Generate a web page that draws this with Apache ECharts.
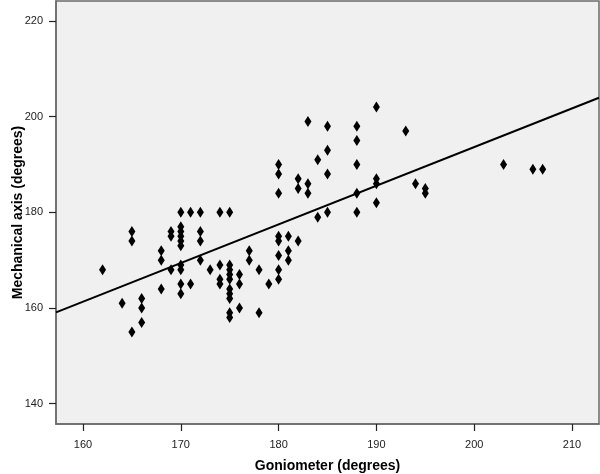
<!DOCTYPE html>
<html>
<head>
<meta charset="utf-8">
<script src="https://cdn.jsdelivr.net/npm/echarts@6/dist/echarts.min.js"></script>
<style>
  html, body { margin: 0; padding: 0; background: #fff; }
  #chart { width: 600px; height: 474px; }
</style>
</head>
<body>
<div id="chart"></div>
<script>
// Goniometer reading (x) and mechanical axis (y) for each patient
const goniometer = [
  162, 164, 165, 165, 165, 166, 166, 166, 168, 168, 168, 169, 169, 169,
  170, 170, 170, 170, 170, 170, 170, 170, 170, 170,
  171, 171, 172, 172, 172, 172, 173, 174, 174, 174, 174,
  175, 175, 175, 175, 175, 175, 175, 175, 175, 175,
  176, 176, 176, 177, 177, 178, 178, 179,
  180, 180, 180, 180, 180, 180, 180, 180,
  181, 181, 181, 182, 182, 182, 183, 183, 183, 184, 184,
  185, 185, 185, 185, 188, 188, 188, 188, 188,
  190, 190, 190, 190, 193, 194, 195, 195, 203, 206, 207
];
const mechanicalAxis = [
  168, 161, 176, 174, 155, 162, 160, 157, 172, 170, 164, 176, 175, 168,
  180, 177, 176, 175, 174, 173, 169, 168, 165, 163,
  180, 165, 180, 176, 174, 170, 168, 180, 169, 166, 165,
  180, 169, 168, 167, 166, 164, 163, 162, 159, 158,
  167, 165, 160, 172, 170, 168, 159, 165,
  190, 188, 184, 175, 174, 171, 168, 166,
  175, 172, 170, 187, 185, 174, 199, 186, 184, 191, 179,
  198, 193, 188, 180, 198, 195, 190, 184, 180,
  202, 187, 186, 182, 197, 186, 185, 184, 190, 189, 189
];

// fitted line, end points at the plot edges
const fitX = [157.24, 212.76];
const fitY = [159.1, 203.95];

const xTicks = [160, 170, 180, 190, 200, 210];
const yTicks = [140, 160, 180, 200, 220];

const chart = echarts.init(document.getElementById("chart"));

const tickLabel = {
  color: "#222",
  fontSize: 11,
  fontFamily: "Liberation Sans, Arial, sans-serif"
};

const option = {
  animation: false,
  backgroundColor: "#fff",
  grid: {
    left: 56,
    right: 1,
    top: 1,
    bottom: 50,
    outerBoundsMode: "none",
    containLabel: false,
    show: true,
    backgroundColor: "#f0f0f0",
    borderColor: "#6a6a6a",
    borderWidth: 1.5
  },
  xAxis: {
    type: "value",
    min: 157.24,
    max: 212.76,
    name: "Goniometer (degrees)",
    nameLocation: "middle",
    nameGap: 35,
    nameMoveOverlap: false,
    nameTextStyle: {
      color: "#000",
      fontSize: 14,
      fontWeight: "bold",
      fontFamily: "Liberation Sans, Arial, sans-serif"
    },
    axisLine: { show: true, lineStyle: { color: "#6a6a6a", width: 1.5 } },
    axisTick: { show: true, length: 7, customValues: xTicks, lineStyle: { color: "#222", width: 1.2 } },
    axisLabel: { ...tickLabel, margin: 15, customValues: xTicks },
    splitLine: { show: false }
  },
  yAxis: {
    type: "value",
    min: 135.76,
    max: 224.18,
    name: "Mechanical axis (degrees)",
    nameLocation: "middle",
    nameGap: 31,
    nameMoveOverlap: false,
    nameTextStyle: {
      color: "#000",
      fontSize: 14,
      fontWeight: "bold",
      fontFamily: "Liberation Sans, Arial, sans-serif"
    },
    axisLine: { show: true, lineStyle: { color: "#6a6a6a", width: 1.5 } },
    axisTick: { show: true, length: 7, customValues: yTicks, lineStyle: { color: "#222", width: 1.2 } },
    axisLabel: { ...tickLabel, margin: 13, customValues: yTicks },
    splitLine: { show: false }
  },
  series: [
    {
      type: "scatter",
      symbol: "diamond",
      symbolSize: [7, 11],
      itemStyle: { color: "#000", opacity: 1 },
      data: goniometer.map((g, i) => [g, mechanicalAxis[i]]),
      z: 3
    },
    {
      type: "line",
      showSymbol: false,
      lineStyle: { color: "#000", width: 2 },
      data: fitX.map((x, i) => [x, fitY[i]]),
      z: 2
    }
  ]
};

chart.setOption(option);
</script>
</body>
</html>
